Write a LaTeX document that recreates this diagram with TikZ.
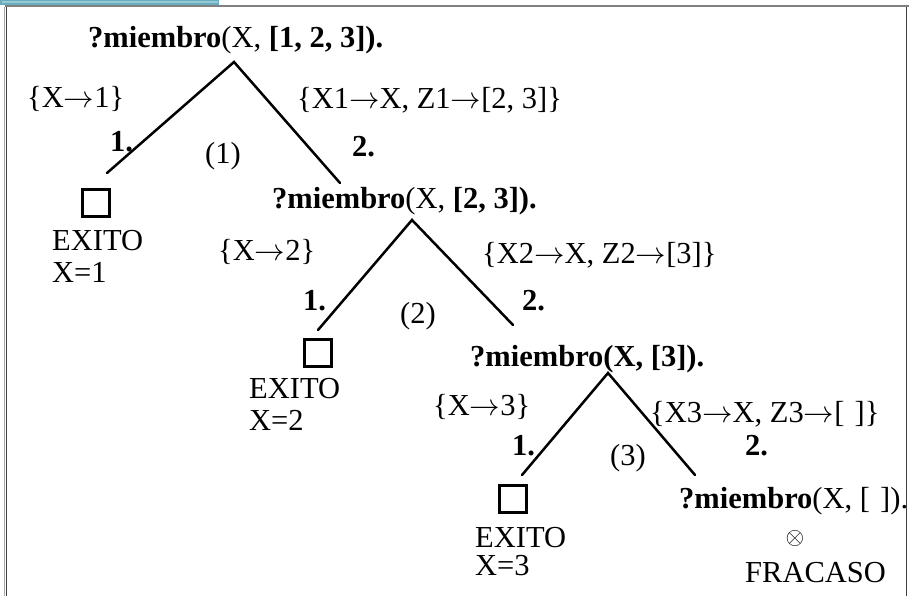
\RequirePackage{fix-cm}
\documentclass[tikz,border=0pt]{standalone}
\usepackage{fontspec}
\setmainfont{Liberation Serif}
\newcommand{\ar}{\ensuremath{\rightarrow}}
\begin{document}
\begin{tikzpicture}[x=1pt,y=-1pt,
  txt/.style={anchor=base west,inner sep=0pt,font=\fontsize{30.5}{32}\selectfont},
  btxt/.style={txt,font=\fontsize{30.5}{32}\selectfont\bfseries},
  branch/.style={line width=2.5pt,line cap=round},
  okbox/.style={draw,line width=2.2pt,minimum size=27pt,inner sep=0pt},
  frameline/.style={line width=1.6pt,draw=black!75}]
\useasboundingbox (0,0) rectangle (909,596);
% frame
\fill[fill={rgb,255:red,104;green,174;blue,191}] (0,0) rectangle (219,5);
\fill[fill={rgb,255:red,150;green,200;blue,212}] (1.5,1.2) rectangle (217.5,3.4);
\draw[line width=1.8pt,draw=black!50] (5,6.2) -- (909,6.2);
\draw[line width=1.4pt,draw=black!35] (4.3,7) -- (4.3,596);
\draw[frameline] (6.3,7) -- (6.3,596);
\draw[frameline] (906.5,7) -- (906.5,596);
% tree 1
\node[txt] (t1) at (88,48) {\textbf{?miembro}(X, \textbf{[1, 2, 3]).}};
\coordinate (a1) at (234,62);
\coordinate (l1) at (107,173);
\coordinate (r1) at (340,183);
\draw[branch] (l1) -- (a1) -- (r1);
\node[txt] (s11) at (27,108) {\{X\ar1\}};
\node[txt] (s12) at (297,109) {\{X1\ar X, Z1\ar[2, 3]\}};
\node[btxt] (n11) at (110,152) {1.};
\node[btxt] (n12) at (352,157) {2.};
\node[txt] (c1) at (205,164) {(1)};
\node[okbox] (b1) at (96,203) {};
\node[txt] (e1) at (52,250) {EXITO};
\node[txt] (x1) at (52,282) {X=1};
% tree 2
\node[txt] (t2) at (272,208) {\textbf{?miembro}(X, \textbf{[2, 3]).}};
\coordinate (a2) at (412,220);
\coordinate (l2) at (318,330);
\coordinate (r2) at (513,325);
\draw[branch] (l2) -- (a2) -- (r2);
\node[txt] (s21) at (218,260) {\{X\ar2\}};
\node[txt] (s22) at (482,263) {\{X2\ar X, Z2\ar[3]\}};
\node[btxt] (n21) at (303,310) {1.};
\node[btxt] (n22) at (522,310) {2.};
\node[txt] (c2) at (400,323) {(2)};
\node[okbox] (b2) at (318,353) {};
\node[txt] (e2) at (249,398) {EXITO};
\node[txt] (x2) at (249,430) {X=2};
% tree 3
\node[btxt] (t3) at (470,366) {?miembro(X, [3]).};
\coordinate (a3) at (608,373);
\coordinate (l3) at (522,475);
\coordinate (r3) at (695,475);
\draw[branch] (l3) -- (a3) -- (r3);
\node[txt] (s31) at (433,415) {\{X\ar3\}};
\node[txt] (s32) at (650,422) {\{X3\ar X, Z3\ar[\,\,]\}};
\node[btxt] (n31) at (512,455) {1.};
\node[btxt] (n32) at (745,455) {2.};
\node[txt] (c3) at (610,465) {(3)};
\node[okbox] (b3) at (513,499) {};
\node[txt] (e3) at (475,547) {EXITO};
\node[txt] (x3) at (475,575) {X=3};
% failure
\node[txt] (t4) at (679,508) {\textbf{?miembro}(X, [\,\,]).};
\node[inner sep=0pt,font=\fontsize{24}{26}\selectfont] (f4) at (795,538) {$\otimes$};
\node[txt] (fr) at (745,582) {FRACASO};
\end{tikzpicture}
\end{document}
